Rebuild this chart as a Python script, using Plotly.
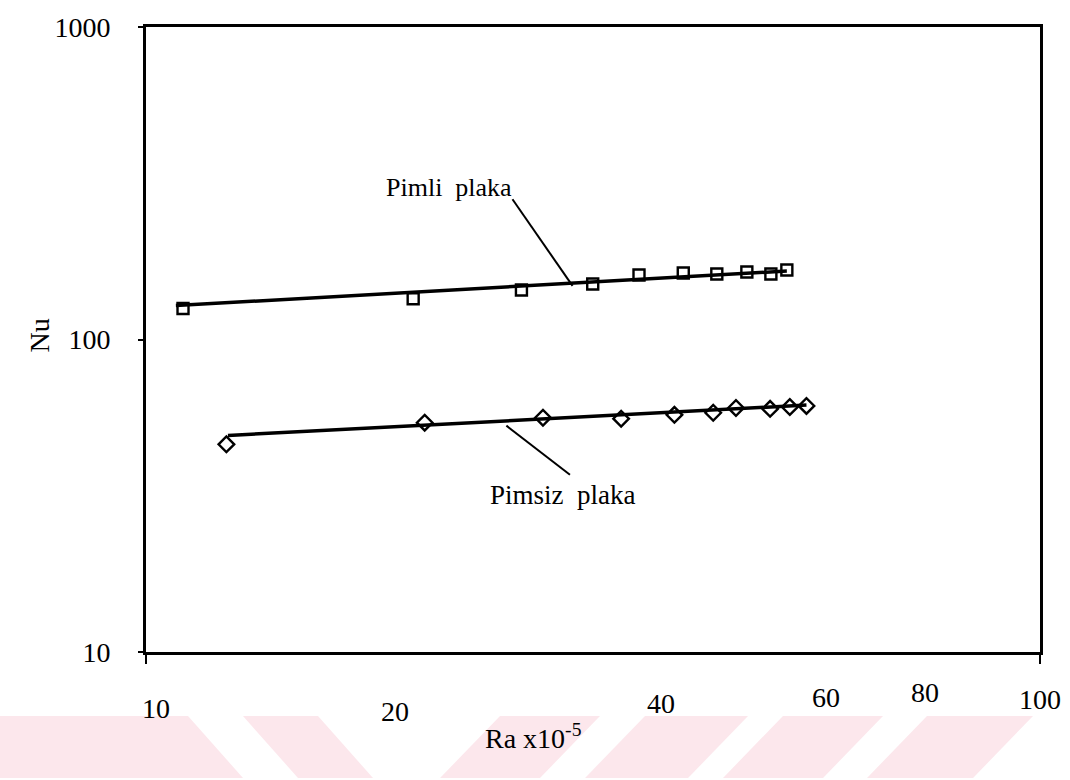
import math
import plotly.graph_objects as go

# ---- data ----
pimli_ra = [11.0, 19.9, 26.3, 31.6, 35.6, 39.9, 43.5, 47.0, 50.0, 52.1]
pimli_nu = [125.7, 135.0, 144.0, 150.6, 160.8, 163.2, 162.0, 164.4, 162.0, 166.8]

pimsiz_ra = [12.3, 20.5, 27.8, 34.0, 39.0, 43.1, 45.7, 49.9, 52.5, 54.8]
pimsiz_nu = [46.2, 54.2, 56.2, 55.8, 57.4, 58.3, 60.4, 60.0, 60.8, 61.3]

# fitted lines (end points)
pimli_fit_ra = [10.8, 52.1]
pimli_fit_nu = [128.4, 165.6]
pimsiz_fit_ra = [12.35, 54.8]
pimsiz_fit_nu = [49.3, 61.7]

# leader lines for the labels
pimli_leader_ra = [25.7, 30.0]
pimli_leader_nu = [281.0, 148.5]
pimsiz_leader_ra = [25.3, 29.8]
pimsiz_leader_nu = [53.0, 36.9]

# x tick labels (hand-placed in the original)
x_tick_text = ["10", "20", "40", "60", "80", "100"]
x_tick_at = [10.26, 18.98, 37.7, 57.6, 74.4, 100.0]
x_tick_ypx = [709, 712, 704, 698, 693, 700]

y_tick_vals = [10, 100, 1000]

# ---- layout geometry ----
W, H = 1070, 780
L, R, T, B = 146, 1040, 17, 652
PW, PH = R - L, B - T


def px2paper(px, py):
    return (px - L) / PW, (B - py) / PH


FONT = "Liberation Serif"

fig = go.Figure()

fig.add_trace(go.Scatter(x=pimli_fit_ra, y=pimli_fit_nu, mode="lines",
                         line=dict(color="black", width=3.5), hoverinfo="skip"))
fig.add_trace(go.Scatter(x=pimsiz_fit_ra, y=pimsiz_fit_nu, mode="lines",
                         line=dict(color="black", width=3.5), hoverinfo="skip"))
fig.add_trace(go.Scatter(x=pimli_leader_ra, y=pimli_leader_nu, mode="lines",
                         line=dict(color="black", width=2), hoverinfo="skip"))
fig.add_trace(go.Scatter(x=pimsiz_leader_ra, y=pimsiz_leader_nu, mode="lines",
                         line=dict(color="black", width=2), hoverinfo="skip"))
fig.add_trace(go.Scatter(x=pimli_ra, y=pimli_nu, mode="markers", name="Pimli plaka",
                         marker=dict(symbol="square-open", size=11, color="black",
                                     line=dict(width=2.4, color="black"))))
fig.add_trace(go.Scatter(x=pimsiz_ra, y=pimsiz_nu, mode="markers", name="Pimsiz plaka",
                         marker=dict(symbol="diamond-open", size=12, color="black",
                                     line=dict(width=2.4, color="black"))))

annotations = []
for t, xv, ypx in zip(x_tick_text, x_tick_at, x_tick_ypx):
    annotations.append(dict(text=t, x=math.log10(xv), xref="x",
                            y=px2paper(0, ypx)[1], yref="paper",
                            showarrow=False, xanchor="center", yanchor="middle",
                            font=dict(family=FONT, size=28, color="black")))

annotations.append(dict(text="Pimli\u00a0\u00a0plaka", x=math.log10(21.8), y=math.log10(306.7),
                        xref="x", yref="y", showarrow=False,
                        font=dict(family=FONT, size=26, color="black")))
annotations.append(dict(text="Pimsiz\u00a0\u00a0plaka", x=math.log10(29.2), y=math.log10(31.9),
                        xref="x", yref="y", showarrow=False,
                        font=dict(family=FONT, size=27, color="black")))

ax_x, ax_y = px2paper(533, 758)
annotations.append(dict(text="Ra x10<sup>-5</sup>", x=ax_x, y=ax_y, xref="paper", yref="paper",
                        showarrow=False, font=dict(family=FONT, size=28, color="black")))
nu_x, nu_y = px2paper(22, 330)
annotations.append(dict(text="Nu", x=nu_x, y=nu_y, xref="paper", yref="paper",
                        showarrow=False, textangle=-90,
                        font=dict(family=FONT, size=28, color="black")))

# faint watermark stripes at the bottom of the page
stripes = [
    [(-60, 717), (188, 717), (243, 780), (-5, 780)],
    [(243, 717), (318, 717), (373, 780), (298, 780)],
    [(500, 717), (600, 717), (540, 780), (440, 780)],
    [(645, 717), (748, 717), (688, 780), (585, 780)],
    [(783, 717), (883, 717), (823, 780), (723, 780)],
    [(927, 717), (1033, 717), (973, 780), (867, 780)],
]
shapes = []
for poly in stripes:
    pts = [px2paper(px, py) for px, py in poly]
    path = "M " + " L ".join(f"{x:.4f},{y:.4f}" for x, y in pts) + " Z"
    shapes.append(dict(type="path", path=path, xref="paper", yref="paper",
                       fillcolor="rgb(252,231,236)", line=dict(width=0), layer="below"))

fig.update_layout(
    width=W, height=H,
    margin=dict(l=L, r=W - R, t=T, b=H - B),
    paper_bgcolor="white", plot_bgcolor="white",
    showlegend=False,
    annotations=annotations,
    shapes=shapes,
    font=dict(family=FONT, color="black"),
    xaxis=dict(type="log", range=[1, 2], showgrid=False, zeroline=False,
               showline=True, linecolor="black", linewidth=3, mirror=True,
               tickvals=[10, 100], ticks="outside", ticklen=9, tickwidth=2,
               tickcolor="black", showticklabels=False),
    yaxis=dict(type="log", range=[1, 3], showgrid=False, zeroline=False,
               showline=True, linecolor="black", linewidth=3, mirror=True,
               tickvals=y_tick_vals, ticktext=[str(v) for v in y_tick_vals],
               ticks="outside", ticklen=5, tickwidth=2, tickcolor="black",
               ticklabelstandoff=22,
               tickfont=dict(family=FONT, size=28, color="black")),
)

fig.write_html("out.html")
